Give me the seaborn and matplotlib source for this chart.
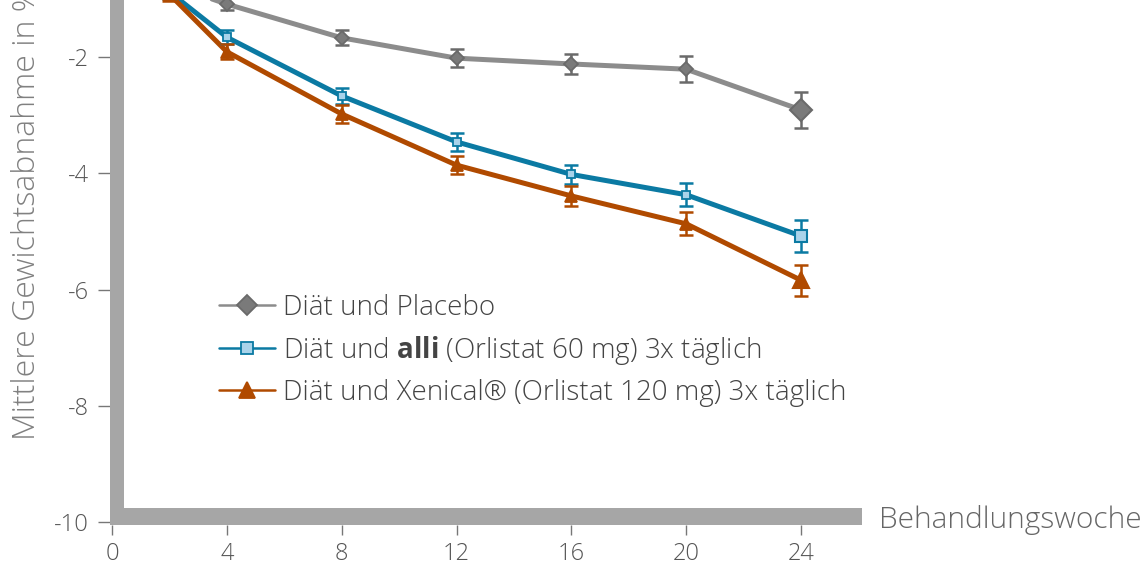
import matplotlib
matplotlib.use("Agg")
import matplotlib.pyplot as plt
from matplotlib.patches import Rectangle
from matplotlib.lines import Line2D
import seaborn as sns
import pandas as pd

# ---- data ----
weeks = [2, 4, 8, 12, 16, 20, 24]
placebo = [-0.75, -1.09, -1.67, -2.02, -2.12, -2.21, -2.91]
placebo_err = [0.10, 0.10, 0.13, 0.15, 0.17, 0.22, 0.31]
alli = [-0.88, -1.66, -2.67, -3.46, -4.02, -4.37, -5.08]
alli_err = [0.12, 0.12, 0.14, 0.15, 0.16, 0.20, 0.27]
xenical = [-0.92, -1.91, -2.98, -3.86, -4.39, -4.87, -5.84]
xenical_err = [0.12, 0.13, 0.15, 0.16, 0.17, 0.20, 0.27]
series_names = ["Placebo", "alli", "Xenical"]
legend_labels = [
    "Diät und Placebo",
    r"Diät und $\mathbf{alli}$ (Orlistat 60 mg) 3x täglich",
    "Diät und Xenical® (Orlistat 120 mg) 3x täglich",
]
xticks = [0, 4, 8, 12, 16, 20, 24]
yticks = [-10, -8, -6, -4, -2]
xlabel = "Behandlungswoche"
ylabel = "Mittlere Gewichtsabnahme in %"

# ---- style ----
sns.set_theme(style="white")
FONT = "Open Sans"
plt.rcParams["font.family"] = [FONT, "DejaVu Sans"]
plt.rcParams["font.weight"] = "light"
plt.rcParams["mathtext.fontset"] = "custom"
plt.rcParams["mathtext.rm"] = FONT + ":light"
plt.rcParams["mathtext.bf"] = FONT + ":bold"

line_colors = {"Placebo": "#8c8c8c", "alli": "#0b7aa3", "Xenical": "#b04a00"}
face_colors = {"Placebo": "#7a7a7a", "alli": "#a9d3ea", "Xenical": "#b04a00"}
edge_colors = {"Placebo": "#6a6a6a", "alli": "#0b7aa3", "Xenical": "#b04a00"}
markers = {"Placebo": "D", "alli": "s", "Xenical": "^"}
small_ms = {"Placebo": 7, "alli": 6, "Xenical": 8}
big_ms = {"Placebo": 11, "alli": 9, "Xenical": 12}

vals = {"Placebo": placebo, "alli": alli, "Xenical": xenical}
errs = {"Placebo": placebo_err, "alli": alli_err, "Xenical": xenical_err}

df = pd.DataFrame(
    [(w, v, s) for s in series_names for w, v in zip(weeks, vals[s])],
    columns=["week", "value", "series"],
)

W, H = 1145, 569
fig = plt.figure(figsize=(W / 100, H / 100), dpi=100)
ax_l, ax_r, ax_b, ax_t = 110, 862, 525, 0
ax = fig.add_axes([ax_l / W, (H - ax_b) / H, (ax_r - ax_l) / W, (ax_b - ax_t) / H])

px_x = (801 - 112) / 24.0
px_y = (522 - 57) / 8.0
ax.set_xlim(-(112 - ax_l) / px_x, (ax_r - 112) / px_x)
ax.set_ylim(-10 - (ax_b - 522) / px_y, -2 + (57 - ax_t) / px_y)

sns.lineplot(data=df, x="week", y="value", hue="series", palette=line_colors,
             linewidth=3.6, legend=False, sort=False, ax=ax, zorder=3)

for s in series_names:
    ax.errorbar(weeks, vals[s], yerr=errs[s], fmt="none", ecolor=edge_colors[s],
                elinewidth=1.8, capsize=5, capthick=1.8, zorder=4)
    ax.plot(weeks[:-1], vals[s][:-1], linestyle="none", marker=markers[s],
            markersize=small_ms[s], markerfacecolor=face_colors[s],
            markeredgecolor=edge_colors[s], markeredgewidth=1.3, zorder=5)
    ax.plot(weeks[-1:], vals[s][-1:], linestyle="none", marker=markers[s],
            markersize=big_ms[s], markerfacecolor=face_colors[s],
            markeredgecolor=edge_colors[s], markeredgewidth=1.5, zorder=5)

# thick grey L-shaped axis bars
bar_col = "#a6a6a6"
ax.add_patch(Rectangle((0, 0), 14 / (ax_r - ax_l), 1, transform=ax.transAxes,
                       color=bar_col, zorder=2, clip_on=False, lw=0))
ax.add_patch(Rectangle((0, 0), 1, 17 / (ax_b - ax_t), transform=ax.transAxes,
                       color=bar_col, zorder=2, clip_on=False, lw=0))

for sp in ax.spines.values():
    sp.set_visible(False)

tick_col = "#555555"
ax.set_xticks(xticks)
ax.set_yticks(yticks)
ax.set_xticklabels([str(t) for t in xticks])
ax.set_yticklabels([str(t) for t in yticks])
ax.tick_params(axis="both", direction="out", colors="#777777", width=1.0,
               labelcolor=tick_col, labelsize=17)
ax.tick_params(axis="y", length=9, pad=6, left=True)
ax.tick_params(axis="x", length=7, pad=5, bottom=True)
ax.set_xlabel("")
ax.set_ylabel("")
ax.grid(False)

fig.text(879 / W, 1 - 520 / H, xlabel, ha="left", va="center", fontsize=21.5,
         color="#666666", fontweight="light")
fig.text(27 / W, 1 - 440 / H, ylabel, ha="center", va="bottom", rotation=90,
         fontsize=23, color="#808080", fontweight="light")

handles = []
for s in series_names:
    handles.append(Line2D([0], [0], color=line_colors[s], lw=1.8, marker=markers[s],
                          markersize=big_ms[s] - 1, markerfacecolor=face_colors[s],
                          markeredgecolor=edge_colors[s], markeredgewidth=1.3))
leg = ax.legend(handles, legend_labels, loc="upper left",
                bbox_to_anchor=(219 / W, 1 - 294 / H), bbox_transform=fig.transFigure,
                frameon=False, fontsize=20, handlelength=2.0, handletextpad=0.3,
                labelspacing=0.43, borderpad=0, borderaxespad=0)
for t in leg.get_texts():
    t.set_color("#444444")

fig.savefig("out.png", dpi=100, facecolor="white")
